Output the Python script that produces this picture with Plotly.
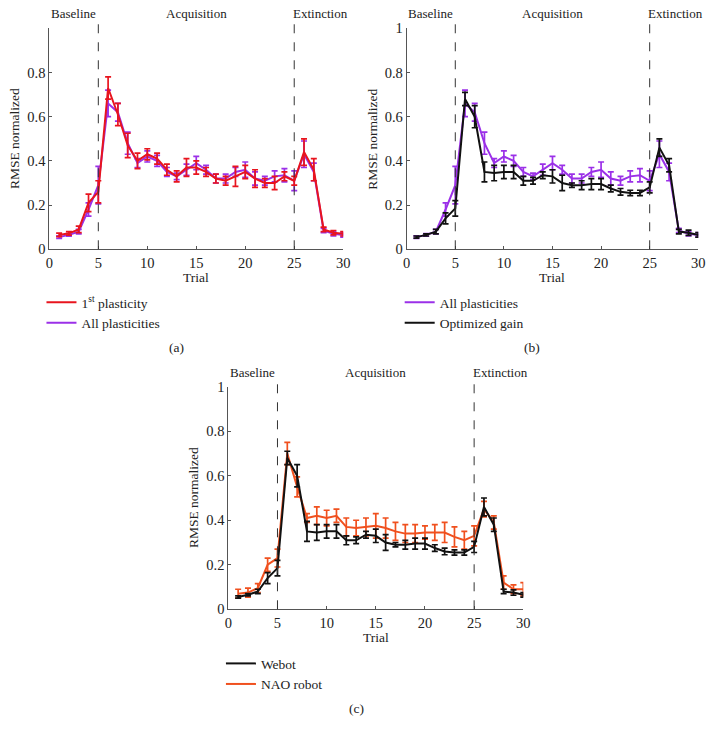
import plotly.graph_objects as go

trials = list(range(1, 31))

first_plast = [0.065, 0.072, 0.09, 0.21, 0.26, 0.73, 0.61, 0.47, 0.40, 0.43,
               0.41, 0.36, 0.33, 0.37, 0.37, 0.35, 0.32, 0.31, 0.33, 0.35,
               0.32, 0.30, 0.30, 0.33, 0.31, 0.44, 0.36, 0.09, 0.075, 0.07]
first_plast_err = [0.008, 0.008, 0.015, 0.04, 0.05, 0.05, 0.05, 0.055, 0.035, 0.025,
                   0.025, 0.025, 0.025, 0.04, 0.03, 0.02, 0.02, 0.02, 0.045, 0.03,
                   0.04, 0.02, 0.03, 0.02, 0.02, 0.06, 0.05, 0.01, 0.01, 0.01]

all_plast = [0.055, 0.065, 0.08, 0.18, 0.29, 0.66, 0.62, 0.48, 0.39, 0.42,
             0.40, 0.35, 0.33, 0.36, 0.39, 0.36, 0.32, 0.32, 0.35, 0.36,
             0.32, 0.31, 0.33, 0.335, 0.31, 0.43, 0.35, 0.085, 0.07, 0.065]
all_plast_err = [0.006, 0.006, 0.01, 0.03, 0.085, 0.06, 0.04, 0.05, 0.02, 0.025,
                 0.025, 0.02, 0.015, 0.025, 0.03, 0.02, 0.02, 0.02, 0.02, 0.035,
                 0.03, 0.02, 0.025, 0.03, 0.045, 0.06, 0.04, 0.01, 0.01, 0.01]

opt_gain = [0.055, 0.065, 0.08, 0.14, 0.185, 0.68, 0.60, 0.35, 0.345, 0.35,
            0.35, 0.31, 0.31, 0.335, 0.33, 0.30, 0.29, 0.29, 0.295, 0.295,
            0.275, 0.26, 0.255, 0.255, 0.28, 0.46, 0.38, 0.08, 0.075, 0.065]
opt_gain_err = [0.005, 0.005, 0.01, 0.025, 0.035, 0.03, 0.05, 0.045, 0.035, 0.03,
                0.03, 0.02, 0.015, 0.015, 0.03, 0.035, 0.01, 0.02, 0.025, 0.025,
                0.015, 0.015, 0.012, 0.012, 0.025, 0.04, 0.03, 0.01, 0.012, 0.01]

nao_robot = [0.07, 0.075, 0.095, 0.20, 0.23, 0.70, 0.55, 0.41, 0.42, 0.41,
             0.42, 0.37, 0.365, 0.37, 0.375, 0.365, 0.35, 0.34, 0.34, 0.345,
             0.345, 0.345, 0.325, 0.31, 0.33, 0.45, 0.39, 0.12, 0.09, 0.09]
nao_robot_err = [0.02, 0.02, 0.02, 0.03, 0.04, 0.05, 0.045, 0.02, 0.04, 0.035,
                 0.03, 0.04, 0.035, 0.04, 0.055, 0.045, 0.04, 0.04, 0.04, 0.03,
                 0.035, 0.045, 0.045, 0.04, 0.045, 0.035, 0.03, 0.03, 0.02, 0.03]

phase_names = ["Baseline", "Acquisition", "Extinction"]
phase_centers = [2.5, 15, 27.7]
phase_bounds = [5, 25]

RED = "#e8141e"
PURPLE = "#9b30e8"
BLACK = "#111111"
ORANGE = "#f0501e"
FONT = "Liberation Serif"

# where each panel sits; 'first_on_top' = first legend entry is drawn over the second
panels = {
    "a": dict(xd=[0.069, 0.480], yd=[0.6604, 0.9614], leg="legend", lx=0.058, ly=0.609,
              px=0.247, py=0.526, first_on_top=True),
    "b": dict(xd=[0.5688, 0.9766], yd=[0.6604, 0.9614], leg="legend2", lx=0.559, ly=0.609,
              px=0.744, py=0.526, first_on_top=False),
    "c": dict(xd=[0.3193, 0.7319], yd=[0.1699, 0.4732], leg="legend3", lx=0.309, ly=0.117,
              px=0.499, py=0.035, first_on_top=True),
}

series = {
    "a": [("1<sup>st</sup> plasticity", first_plast, first_plast_err, RED),
          ("All plasticities", all_plast, all_plast_err, PURPLE)],
    "b": [("All plasticities", all_plast, all_plast_err, PURPLE),
          ("Optimized gain", opt_gain, opt_gain_err, BLACK)],
    "c": [("Webot", opt_gain, opt_gain_err, BLACK),
          ("NAO robot", nao_robot, nao_robot_err, ORANGE)],
}

fig = go.Figure()
layout = dict(
    width=715, height=734,
    margin=dict(l=0, r=0, t=0, b=0),
    paper_bgcolor="white", plot_bgcolor="white",
    font=dict(family=FONT, size=13, color="#222"),
    shapes=[], annotations=[],
)

for i, (key, p) in enumerate(panels.items()):
    n = "" if i == 0 else str(i + 1)
    xa, ya = "x" + n, "y" + n
    items = series[key][::-1] if p["first_on_top"] else series[key]
    for name, vals, errs, col in items:
        fig.add_trace(go.Scatter(
            x=trials, y=vals, name=name, mode="lines",
            line=dict(color=col, width=2),
            error_y=dict(type="data", array=errs, color=col, thickness=1.7, width=3),
            xaxis=xa, yaxis=ya, legend=p["leg"],
        ))
    tickvals = [0, 0.2, 0.4, 0.6, 0.8] if key == "a" else [0, 0.2, 0.4, 0.6, 0.8, 1]
    layout["xaxis" + n] = dict(
        domain=p["xd"], range=[0, 30], anchor=ya, tickvals=[0, 5, 10, 15, 20, 25, 30],
        showgrid=False, zeroline=False, showline=True, linecolor="#555", linewidth=1,
        ticks="inside", ticklen=3, tickcolor="#555", tickfont=dict(size=14.5),
        automargin=False,
    )
    layout["yaxis" + n] = dict(
        domain=p["yd"], range=[0, 1], anchor=xa, tickvals=tickvals,
        showgrid=False, zeroline=False, showline=True, linecolor="#555", linewidth=1,
        ticks="inside", ticklen=3, tickcolor="#555", tickfont=dict(size=14.5),
        automargin=False,
    )
    # axis titles as annotations so they sit where the reference has them
    layout["annotations"].append(dict(
        text="Trial", x=0.5, y=-0.127, xref=xa + " domain", yref=ya + " domain",
        showarrow=False, font=dict(size=13.5), xanchor="center", yanchor="middle",
    ))
    layout["annotations"].append(dict(
        text="RMSE normalized", x=-0.116, y=0.5, xref=xa + " domain", yref=ya + " domain",
        showarrow=False, font=dict(size=13.5), textangle=-90,
        xanchor="center", yanchor="middle",
    ))
    for b in phase_bounds:
        layout["shapes"].append(dict(
            type="line", xref=xa, yref=ya + " domain", x0=b, x1=b, y0=0, y1=1.03,
            line=dict(color="#333", width=1, dash="dash"),
        ))
    for name, cx in zip(phase_names, phase_centers):
        layout["annotations"].append(dict(
            text=name, x=cx, y=1.065, xref=xa, yref=ya + " domain", showarrow=False,
            font=dict(size=13), xanchor="center", yanchor="middle",
        ))
    layout["annotations"].append(dict(
        text="(" + key + ")", x=p["px"], y=p["py"], xref="paper", yref="paper",
        showarrow=False, font=dict(size=13.5), xanchor="center", yanchor="middle",
    ))
    layout[p["leg"]] = dict(
        x=p["lx"], y=p["ly"], xanchor="left", yanchor="top",
        bgcolor="rgba(0,0,0,0)", font=dict(size=13.5), tracegroupgap=0,
        itemwidth=30, traceorder="reversed" if p["first_on_top"] else "normal",
    )

fig.update_layout(**layout)
# drop the browser's default 8px body margin so the figure fills the window
fig.write_html("out.html", config={"displayModeBar": False},
               post_script="document.body.style.margin='0';")
